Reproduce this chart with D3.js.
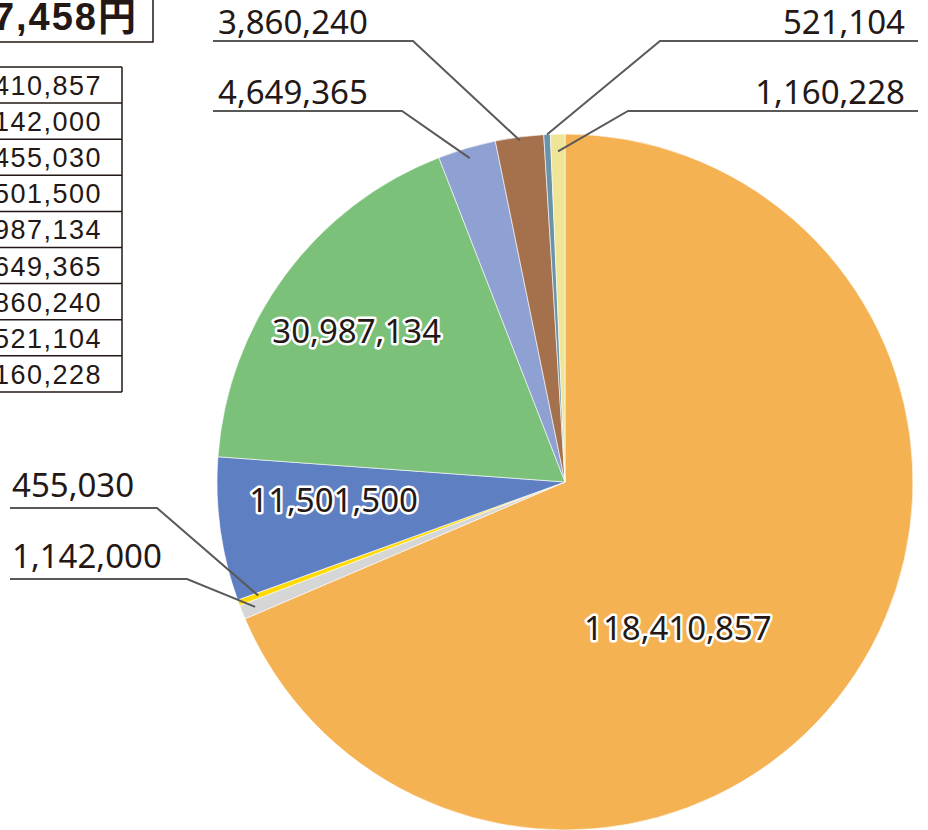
<!DOCTYPE html>
<html>
<head>
<meta charset="utf-8">
<script src="https://cdn.jsdelivr.net/npm/d3@7"></script>
<style>
  body { margin: 0; background: #fff; }
  svg { display: block; }
</style>
</head>
<body>
<svg id="chart" width="928" height="830"></svg>
<script>
// slice values, clockwise from 12 o'clock
const values = [118410857, 1142000, 455030, 11501500, 30987134, 4649365, 3860240, 521104, 1160228];
const colors = ['#f5b253', '#d6d6d6', '#ffd900', '#5e7fc1', '#7cc17a', '#8fa0d2', '#a5704c', '#6a93a8', '#eee597'];
const totalText = '172,687,458円';

// how each slice label is placed
const labelLayout = [
  {kind: 'inside', angle: 142.3, r: 0.53},
  {kind: 'outside', side: 'left', ty: 568, lineY: 579, x0: 10, elbow: 187, tx: 12, end: 0.96},
  {kind: 'outside', side: 'left', ty: 497, lineY: 508, x0: 10, elbow: 157, tx: 12, end: 0.94},
  {kind: 'inside', angle: 265.5, r: 0.667},
  {kind: 'inside', angle: 306, r: 0.74},
  {kind: 'outside', side: 'left', ty: 104, lineY: 111, x0: 213, elbow: 402, tx: 218, end: 0.97},
  {kind: 'outside', side: 'left', ty: 34, lineY: 41, x0: 213, elbow: 413, tx: 218, end: 0.99},
  {kind: 'outside', side: 'right', ty: 34, lineY: 41, x0: 918, elbow: 660, tx: 905, end: 1.0},
  {kind: 'outside', side: 'right', ty: 104, lineY: 111, x0: 918, elbow: 628, tx: 905, end: 0.95}
];

const fmt = d3.format(',');
const ink = '#231815';
const svg = d3.select('#chart');

// ---- total box (cut off on the left) ----
svg.append('text')
  .attr('x', 138).attr('y', 30)
  .attr('text-anchor', 'end')
  .attr('font-family', '"Liberation Sans", "Noto Sans CJK JP", sans-serif')
  .attr('font-weight', 'bold')
  .attr('font-size', 38)
  .attr('letter-spacing', 2)
  .attr('fill', ink)
  .text(totalText);
svg.append('path')
  .attr('d', 'M-5,42H153V-5')
  .attr('fill', 'none').attr('stroke', ink).attr('stroke-width', 1.5);

// ---- value table (cut off on the left) ----
const rowH = 36.1, tableTop = 67, tableRight = 122;
const table = svg.append('g');
table.selectAll('line.row')
  .data(d3.range(values.length + 1))
  .join('line')
  .attr('class', 'row')
  .attr('x1', -5).attr('x2', tableRight)
  .attr('y1', i => tableTop + i * rowH).attr('y2', i => tableTop + i * rowH)
  .attr('stroke', ink).attr('stroke-width', 1.5);
table.append('line')
  .attr('x1', tableRight).attr('x2', tableRight)
  .attr('y1', tableTop).attr('y2', tableTop + values.length * rowH)
  .attr('stroke', ink).attr('stroke-width', 1.5);
table.selectAll('text')
  .data(values)
  .join('text')
  .attr('x', 102)
  .attr('y', (d, i) => tableTop + i * rowH + 28)
  .attr('text-anchor', 'end')
  .attr('font-family', '"Liberation Sans", sans-serif')
  .attr('font-size', 27)
  .attr('letter-spacing', 1.5)
  .attr('fill', ink)
  .text(d => fmt(d));

// ---- pie ----
const cx = 565, cy = 482, radius = 348;
const pie = d3.pie().sort(null).value(d => d)(values);
const arc = d3.arc().innerRadius(0).outerRadius(radius);
const g = svg.append('g').attr('transform', `translate(${cx},${cy})`);

g.selectAll('path')
  .data(pie)
  .join('path')
  .attr('d', arc)
  .attr('fill', (d, i) => colors[i])
  .attr('stroke', '#fff')
  .attr('stroke-width', 0.6);

const polar = (deg, r) => {
  const a = deg * Math.PI / 180;
  return [Math.sin(a) * r, -Math.cos(a) * r];
};

// leader lines for small slices
const outside = pie.map((d, i) => ({d, i, L: labelLayout[i]})).filter(o => o.L.kind === 'outside');
svg.append('g').selectAll('path')
  .data(outside)
  .join('path')
  .attr('d', o => {
    const mid = (o.d.startAngle + o.d.endAngle) / 2 * 180 / Math.PI;
    const [ex, ey] = polar(mid, radius * o.L.end);
    return `M${o.L.x0},${o.L.lineY}H${o.L.elbow}L${cx + ex},${cy + ey}`;
  })
  .attr('fill', 'none')
  .attr('stroke', '#595959')
  .attr('stroke-width', 2);

svg.append('g').selectAll('text')
  .data(outside)
  .join('text')
  .attr('x', o => o.L.tx)
  .attr('y', o => o.L.ty)
  .attr('text-anchor', o => o.L.side === 'left' ? 'start' : 'end')
  .attr('font-family', '"Noto Sans", sans-serif')
  .attr('font-size', 33)
  .attr('fill', ink)
  .text(o => fmt(o.d.value));

// labels inside the big slices, with a white halo
const inside = pie.map((d, i) => ({d, i, L: labelLayout[i]})).filter(o => o.L.kind === 'inside');
g.selectAll('text')
  .data(inside)
  .join('text')
  .attr('transform', o => {
    const [x, y] = polar(o.L.angle, radius * o.L.r);
    return `translate(${x},${y})`;
  })
  .attr('dy', '0.36em')
  .attr('text-anchor', 'middle')
  .attr('font-family', '"Noto Sans", sans-serif')
  .attr('font-size', 33)
  .attr('fill', ink)
  .attr('stroke', '#fff')
  .attr('stroke-width', 5)
  .attr('stroke-linejoin', 'round')
  .attr('paint-order', 'stroke')
  .text(o => fmt(o.d.value));
</script>
</body>
</html>
